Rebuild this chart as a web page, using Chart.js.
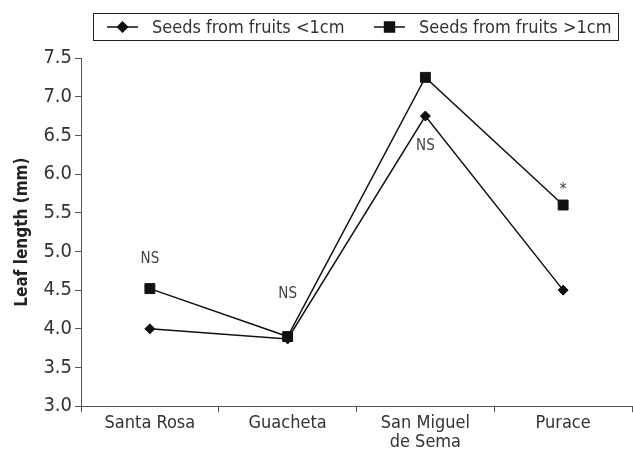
<!DOCTYPE html>
<html>
<head>
<meta charset="utf-8">
<script src="https://cdn.jsdelivr.net/npm/chart.js@4/dist/chart.umd.min.js"></script>
<style>
html,body{margin:0;padding:0;background:#fff;}
#wrap{width:633px;height:454px;position:relative;}
</style>
</head>
<body>
<div id="wrap"><canvas id="c" width="633" height="454"></canvas></div>
<script>
const categories = [['Santa Rosa'], ['Guacheta'], ['San Miguel', 'de Sema'], ['Purace']];
const seriesSmall = [4.0, 3.87, 6.75, 4.5];
const seriesLarge = [4.52, 3.9, 7.25, 5.6];
const seriesNames = ['Seeds from fruits <1cm', 'Seeds from fruits >1cm'];
const yTicks = [3.0, 3.5, 4.0, 4.5, 5.0, 5.5, 6.0, 6.5, 7.0, 7.5];
const noteLabels = ['NS', 'NS', 'NS', '*'];
const noteValues = [4.9, 4.45, 6.36, 5.83];

const FONT = "'Liberation Sans Narrow','DejaVu Sans Condensed','Roboto',sans-serif";

const notesPlugin = {
  id: 'notes',
  afterDatasetsDraw(chart) {
    const ctx = chart.ctx;
    const xs = chart.scales.x, ys = chart.scales.y;
    ctx.save();
    ctx.fillStyle = '#444';
    ctx.textAlign = 'center';
    ctx.textBaseline = 'middle';
    noteLabels.forEach((t, i) => {
      ctx.font = (t === '*' ? '16px ' : '15px ') + FONT;
      ctx.fillText(t, xs.getPixelForValue(i), ys.getPixelForValue(noteValues[i]) + (t === '*' ? 3 : 0));
    });
    ctx.restore();
  }
};

const legendPlugin = {
  id: 'boxLegend',
  afterDraw(chart) {
    const ctx = chart.ctx;
    ctx.save();
    const bx = 93.5, by = 13.5, bw = 525, bh = 27;
    ctx.strokeStyle = '#222';
    ctx.lineWidth = 1;
    ctx.strokeRect(bx, by, bw, bh);
    const cy = by + bh / 2;
    const items = [
      {x: 107, style: 'rectRot', r: 5},
      {x: 374, style: 'rect', r: 7}
    ];
    ctx.font = '18px ' + FONT;
    ctx.textBaseline = 'middle';
    items.forEach((it, i) => {
      ctx.strokeStyle = '#111';
      ctx.lineWidth = 1.5;
      ctx.beginPath();
      ctx.moveTo(it.x, cy);
      ctx.lineTo(it.x + 31, cy);
      ctx.stroke();
      ctx.fillStyle = '#111';
      Chart.helpers.drawPoint(ctx, {pointStyle: it.style, radius: it.r, rotation: 0, borderWidth: 1}, it.x + 15.5, cy);
      ctx.fill();
      ctx.fillStyle = '#333';
      ctx.fillText(seriesNames[i], it.x + 45, cy + 1);
    });
    ctx.restore();
  }
};

new Chart(document.getElementById('c'), {
  type: 'line',
  data: {
    labels: categories,
    datasets: [
      {
        label: seriesNames[0],
        data: seriesSmall,
        borderColor: '#111',
        backgroundColor: '#111',
        borderWidth: 1.5,
        pointStyle: 'rectRot',
        pointRadius: 5,
        pointBorderWidth: 1,
        tension: 0
      },
      {
        label: seriesNames[1],
        data: seriesLarge,
        borderColor: '#111',
        backgroundColor: '#111',
        borderWidth: 1.5,
        pointStyle: 'rect',
        pointRadius: 7,
        pointBorderWidth: 1,
        tension: 0
      }
    ]
  },
  options: {
    responsive: false,
    animation: false,
    devicePixelRatio: 1,
    layout: {autoPadding: false, padding: {top: 58, right: 1, left: 12, bottom: 0}},
    plugins: {legend: {display: false}, tooltip: {enabled: false}},
    scales: {
      x: {
        offset: true,
        grid: {offset: true, drawOnChartArea: false, drawTicks: true, tickLength: 6, color: '#555', tickColor: '#555'},
        border: {color: '#555', width: 1},
        ticks: {color: '#333', font: {family: FONT, size: 18, lineHeight: 1.05}, padding: 2, maxRotation: 0, autoSkip: false}
      },
      y: {
        min: 3.0,
        max: 7.5,
        afterBuildTicks(scale) { scale.ticks = yTicks.map(v => ({value: v})); },
        grid: {drawOnChartArea: false, drawTicks: true, tickLength: 6, color: '#555', tickColor: '#555'},
        border: {color: '#555', width: 1},
        ticks: {color: '#333', font: {family: FONT, size: 20}, padding: 3, callback: v => Number(v).toFixed(1)},
        title: {display: true, text: 'Leaf length (mm)', color: '#222', font: {family: FONT, size: 17, weight: 'bold'}, padding: {top: 0, bottom: 8}}
      }
    }
  },
  plugins: [notesPlugin, legendPlugin]
});
</script>
</body>
</html>
